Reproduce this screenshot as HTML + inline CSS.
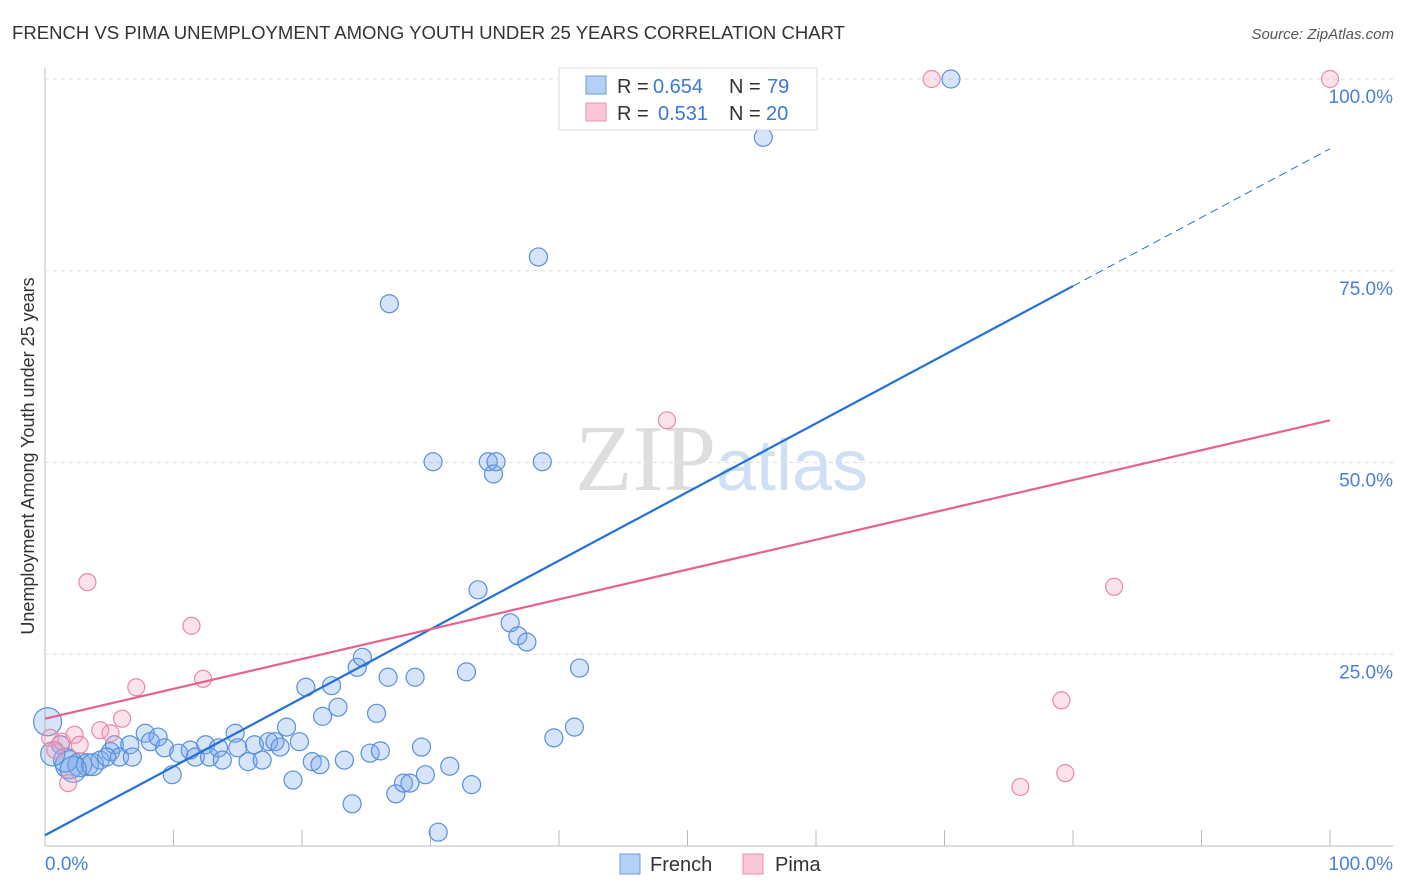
<!DOCTYPE html>
<html><head><meta charset="utf-8"><style>
body{margin:0;background:#fff;font-family:"Liberation Sans",sans-serif}
#wrap{position:relative;width:1406px;height:892px;overflow:hidden}
</style></head><body><div id="wrap">
<svg id="svg" width="1406" height="892" xmlns="http://www.w3.org/2000/svg">
<text x="12" y="39" font-size="18" fill="#333" textLength="833" lengthAdjust="spacingAndGlyphs">FRENCH VS PIMA UNEMPLOYMENT AMONG YOUTH UNDER 25 YEARS CORRELATION CHART</text>
<text x="1394" y="39" font-size="15" fill="#555" font-style="italic" text-anchor="end">Source: ZipAtlas.com</text>
<text x="716" y="490" font-size="94" fill="#ddd" text-anchor="end" font-family="Liberation Serif,serif">ZIP</text>
<text x="716" y="490" font-size="72" fill="#cfe0f5">atlas</text>
<text transform="translate(34,456) rotate(-90)" font-size="18" fill="#333" text-anchor="middle">Unemployment Among Youth under 25 years</text>
<g id="grid"></g><g id="pts"></g><g id="lines"></g>
<rect x="559" y="68" width="258" height="62" fill="#fff" stroke="#ddd"/>
<rect x="586" y="76" width="20" height="18" fill="#b5d0f5" stroke="#6b9be0"/>
<rect x="586" y="103" width="20" height="18" fill="#fac8d8" stroke="#ec90ae"/>
<g font-size="20">
<text x="617" y="93" fill="#333">R =</text><text x="653" y="93" fill="#3b78d8">0.654</text>
<text x="729" y="93" fill="#333">N =</text><text x="767" y="93" fill="#3b78d8">79</text></g>
<g font-size="20">
<text x="617" y="120" fill="#333">R =</text><text x="658" y="120" fill="#3b78d8">0.531</text>
<text x="729" y="120" fill="#333">N =</text><text x="766" y="120" fill="#3b78d8">20</text></g>
<text x="45" y="870" font-size="19" fill="#4a7fd4">0.0%</text>
<text x="1393" y="870" font-size="19" fill="#4a7fd4" text-anchor="end">100.0%</text>
<rect x="620" y="854" width="20" height="20" fill="#b5d0f5" stroke="#6b9be0"/>
<text x="650" y="871" font-size="20" fill="#333">French</text>
<rect x="743" y="854" width="20" height="20" fill="#fac8d8" stroke="#ec90ae"/>
<text x="775" y="871" font-size="20" fill="#333">Pima</text>
</svg>
<script>
const yTicks=[25,50,75,100];
const yTickLabels=["25.0%","50.0%","75.0%","100.0%"];
const xTicks=[10,20,30,40,50,60,70,80,90,100];
const frenchX=[0.2,1.2,1.9,2.7,3.3,4.3,5.1,5.4,5.8,6.6,6.8,7.8,8.2,8.8,9.3,9.9,10.4,11.3,11.7,12.5,12.8,13.5,13.8,14.8,15.0,15.8,16.3,16.9,17.4,17.9,18.3,18.8,19.3,19.8,20.3,20.8,21.4,21.6,22.3,22.8,23.3,23.9,24.3,24.7,25.3,25.8,26.1,26.7,26.8,27.3,27.9,28.4,28.8,29.3,29.6,30.2,30.6,31.5,32.8,33.2,33.7,34.5,34.9,35.1,36.2,36.8,37.5,38.4,38.7,39.6,41.2,41.6,55.9,70.5,1.6,3.7,2.2,0.6,4.8];
const frenchY=[16.2,13.2,10.6,10.6,10.6,11.2,12.3,13.2,11.6,13.2,11.6,14.7,13.6,14.2,12.8,9.3,12.1,12.5,11.6,13.2,11.6,12.8,11.2,14.7,12.8,11.0,13.2,11.2,13.6,13.6,12.9,15.5,8.6,13.6,20.7,11.0,10.6,16.9,20.9,18.1,11.2,5.5,23.3,24.6,12.1,17.3,12.4,22.0,70.7,6.8,8.2,8.2,22.0,12.9,9.3,50.1,1.8,10.4,22.7,8.0,33.4,50.1,48.5,50.1,29.1,27.4,26.6,76.8,50.1,14.1,15.5,23.2,92.4,100,11.2,10.6,10.0,12.0,11.6];
const frenchSize=[14,9,14,12,11,9,9,9,9,9,9,9,9,9,9,9,9,9,9,9,9,9,9,9,9,9,9,9,9,9,9,9,9,9,9,9,9,9,9,9,9,9,9,9,9,9,9,9,9,9,9,9,9,9,9,9,9,9,9,9,9,9,9,9,9,9,9,9,9,9,9,9,9,9,12,11,13,12,9];
const pimaX=[0.4,0.8,1.3,1.8,2.3,2.7,3.3,4.3,5.1,6.0,7.1,11.4,12.3,48.4,69.0,75.9,79.1,79.4,83.2,100];
const pimaY=[14.1,12.5,13.6,8.2,14.5,13.2,34.4,15.1,14.7,16.6,20.7,28.7,21.8,55.5,100,7.7,19.0,9.5,33.8,100];
const frenchTrend=[1.4,90.9];
const pimaTrend=[16.6,55.5];
const X=v=>45+v*12.85, Y=v=>846-v*7.67;
const NS="http://www.w3.org/2000/svg";
function mk(t,a,p){const e=document.createElementNS(NS,t);for(const k in a)e.setAttribute(k,a[k]);p.appendChild(e);return e;}
const g=document.getElementById('grid');
const ax=mk('line',{x1:45,y1:68,x2:45,y2:846,stroke:'#bbb'},g);


const bx=mk('line',{x1:45,y1:846,x2:1393,y2:846,stroke:'#bbb'},g);


yTicks.forEach((t,i)=>{
 const l=mk('line',{x1:45,y1:Y(t),x2:1393,y2:Y(t),stroke:'#ddd','stroke-dasharray':'4,4'},g);
 
 
 const tx=mk('text',{x:1393,y:Y(t)+24,'font-size':19,fill:'#4a7fd4','text-anchor':'end'},g);
 tx.textContent=yTickLabels[i];
 
 
});
xTicks.forEach(t=>{
 const l=mk('line',{x1:X(t),y1:830,x2:X(t),y2:846,stroke:'#bbb'},g);
 
 
});
const p=document.getElementById('pts');
frenchX.forEach((x,i)=>{
 const c=mk('circle',{cx:X(x),cy:Y(frenchY[i]),r:frenchSize[i],fill:'rgba(120,165,235,0.3)',stroke:'#5a8fdb','stroke-width':1.2},p);
 
 
});
pimaX.forEach((x,i)=>{
 const c=mk('circle',{cx:X(x),cy:Y(pimaY[i]),r:8.5,fill:'rgba(245,160,190,0.3)',stroke:'#e88aa8','stroke-width':1.2},p);
 
 
});
const L=document.getElementById('lines');
const fy=x=>frenchTrend[0]+(frenchTrend[1]-frenchTrend[0])*x/100;
const f1=mk('line',{x1:X(0),y1:Y(fy(0)),x2:X(80),y2:Y(fy(80)),stroke:'#2270d8','stroke-width':2.2},L);


const f2=mk('line',{x1:X(80),y1:Y(fy(80)),x2:X(100),y2:Y(fy(100)),stroke:'#2270d8','stroke-width':1,'stroke-dasharray':'8,5'},L);


const p1=mk('line',{x1:X(0),y1:Y(pimaTrend[0]),x2:X(100),y2:Y(pimaTrend[1]),stroke:'#e8608e','stroke-width':2.2},L);


</script></div></body></html>
